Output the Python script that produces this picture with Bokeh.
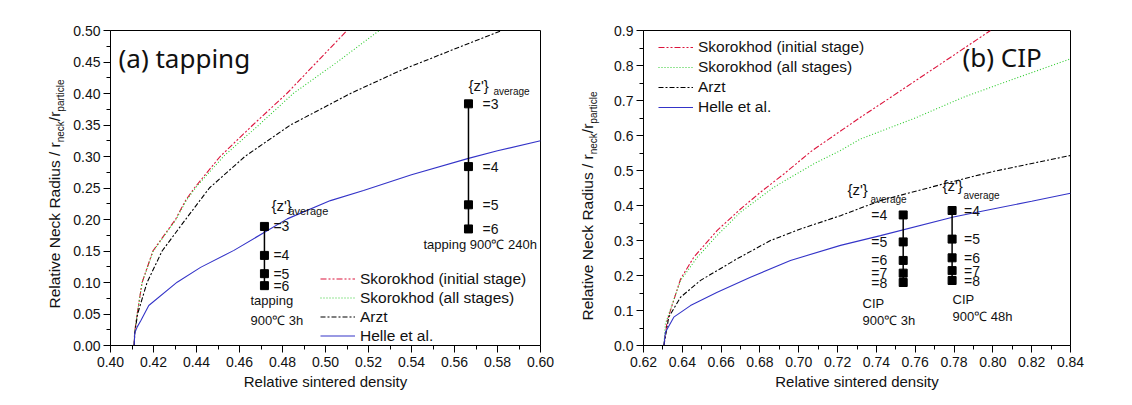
import math
from bokeh.plotting import figure
from bokeh.models import Label, Legend, LegendItem, FixedTicker, NumeralTickFormatter, Range1d
from bokeh.layouts import row
from bokeh.embed import file_html
from bokeh.resources import INLINE

# ---------------- data ----------------
# (a) tapping
tap_sk_init_x = [0.411, 0.4112, 0.4124, 0.4147, 0.4197, 0.4302, 0.4349, 0.439, 0.451, 0.4662, 0.482, 0.496, 0.510]
tap_sk_init_y = [0.0, 0.02, 0.05, 0.10, 0.15, 0.20, 0.23, 0.25, 0.30, 0.35, 0.40, 0.45, 0.50]
tap_sk_all_x = [0.411, 0.4112, 0.4124, 0.4147, 0.4199, 0.4305, 0.4352, 0.4395, 0.4525, 0.469, 0.485, 0.5055, 0.525]
tap_sk_all_y = [0.0, 0.02, 0.05, 0.10, 0.15, 0.20, 0.23, 0.25, 0.30, 0.35, 0.40, 0.45, 0.50]
tap_arzt_x = [0.411, 0.4113, 0.4126, 0.417, 0.424, 0.4349, 0.446, 0.4625, 0.4837, 0.5116, 0.5349, 0.5581, 0.582]
tap_arzt_y = [0.0, 0.02, 0.05, 0.10, 0.15, 0.20, 0.25, 0.30, 0.35, 0.40, 0.4365, 0.468, 0.50]
tap_helle_x = [0.411, 0.4113, 0.4125, 0.4142, 0.4178, 0.431, 0.4419, 0.4574, 0.4822, 0.5023, 0.5177, 0.54, 0.5665, 0.58, 0.60]
tap_helle_y = [0.0, 0.02, 0.03, 0.04, 0.0635, 0.1005, 0.124, 0.151, 0.201, 0.230, 0.246, 0.271, 0.297, 0.309, 0.325]

tap_3h_x = [0.4716, 0.4716, 0.4716, 0.4716]
tap_3h_z = [0.189, 0.143, 0.114, 0.095]
tap_3h_lab = ["=3", "=4", "=5", "=6"]
tap_240h_x = [0.5665, 0.5665, 0.5665, 0.5665]
tap_240h_z = [0.3836, 0.284, 0.2233, 0.185]
tap_240h_lab = ["=3", "=4", "=5", "=6"]

# (b) CIP
cip_sk_init_x = [0.6305, 0.6313, 0.6322, 0.6391, 0.6459, 0.658, 0.670, 0.6803, 0.6923, 0.7069, 0.7318, 0.746, 0.773, 0.7988]
cip_sk_init_y = [0.0, 0.03, 0.071, 0.19, 0.252, 0.329, 0.39, 0.438, 0.49, 0.557, 0.652, 0.704, 0.804, 0.90]
cip_sk_all_x = [0.6305, 0.6313, 0.6391, 0.6477, 0.658, 0.670, 0.6871, 0.7077, 0.7215, 0.7318, 0.76, 0.7847, 0.81, 0.84]
cip_sk_all_y = [0.0, 0.062, 0.186, 0.252, 0.315, 0.381, 0.452, 0.519, 0.557, 0.59, 0.65, 0.709, 0.76, 0.819]
cip_arzt_x = [0.6305, 0.633, 0.6391, 0.6494, 0.6683, 0.6854, 0.7009, 0.7215, 0.7421, 0.7747, 0.80, 0.84]
cip_arzt_y = [0.0, 0.081, 0.138, 0.186, 0.248, 0.30, 0.333, 0.371, 0.414, 0.462, 0.497, 0.543]
cip_helle_x = [0.6305, 0.6313, 0.6356, 0.6442, 0.658, 0.6751, 0.6957, 0.7215, 0.7421, 0.7797, 0.80, 0.82, 0.84]
cip_helle_y = [0.0, 0.038, 0.081, 0.114, 0.152, 0.195, 0.243, 0.286, 0.314, 0.367, 0.39, 0.412, 0.435]

cip_3h_x = [0.7538] * 5
cip_3h_z = [0.373, 0.296, 0.243, 0.2067, 0.18]
cip_3h_lab = ["=4", "=5", "=6", "=7", "=8"]
cip_48h_x = [0.779] * 5
cip_48h_z = [0.3857, 0.304, 0.2505, 0.214, 0.1857]
cip_48h_lab = ["=4", "=5", "=6", "=7", "=8"]

legend_labels = ["Skorokhod (initial stage)", "Skorokhod (all stages)", "Arzt", "Helle et al."]

tap_xticks = [0.40, 0.42, 0.44, 0.46, 0.48, 0.50, 0.52, 0.54, 0.56, 0.58, 0.60]
tap_yticks = [0.00, 0.05, 0.10, 0.15, 0.20, 0.25, 0.30, 0.35, 0.40, 0.45, 0.50]
cip_xticks = [0.62, 0.64, 0.66, 0.68, 0.70, 0.72, 0.74, 0.76, 0.78, 0.80, 0.82, 0.84]
cip_yticks = [0.0, 0.1, 0.2, 0.3, 0.4, 0.5, 0.6, 0.7, 0.8, 0.9]

# ---------------- style ----------------
FONT = "Liberation Sans"
BIG_FONT = "Noto Sans"
C_RED = "#DC143C"
C_GREEN = "#2ECC2E"
C_BLACK = "#000000"
C_BLUE = "#3434C8"
TXT = "#111111"
styles = [(C_RED, "6 2 2 2 2 2"), (C_GREEN, "1 2"), (C_BLACK, "5 2 2 2"), (C_BLUE, "solid")]
MID = {FONT: 0.3465, BIG_FONT: 0.388}   # baseline -> middle of text box, in em

H = 400          # figure height
TOP = 30         # frame top (page px)
FH = 315         # frame height
FRAME_A = (110, 30, 540, 345)
FRAME_B = (643, 30, 1070, 345)
LA_W = 70
LB_W = 35


def minors(ticks):
    return [(a + b) / 2 for a, b in zip(ticks[:-1], ticks[1:])]


def make_fig(xr, yr, frame_w, left, right, xt, yt, yfmt):
    p = figure(x_range=Range1d(*xr), y_range=Range1d(*yr), frame_width=frame_w, frame_height=FH,
               min_border_left=left, min_border_right=right, min_border_top=TOP,
               min_border_bottom=H - TOP - FH,
               output_backend="svg", toolbar_location=None, background_fill_color="white",
               border_fill_color="white")
    p.xgrid.visible = False
    p.ygrid.visible = False
    p.outline_line_color = "black"
    p.outline_line_width = 1
    p.outline_line_alpha = 1
    for ax, ticks, fmt in ((p.xaxis[0], xt, "0.00"), (p.yaxis[0], yt, yfmt)):
        ax.ticker = FixedTicker(ticks=ticks, minor_ticks=minors(ticks))
        ax.formatter = NumeralTickFormatter(format=fmt)
        ax.axis_line_color = "black"
        ax.major_tick_line_color = "black"
        ax.minor_tick_line_color = "black"
        ax.major_tick_out = 7
        ax.major_tick_in = 0
        ax.minor_tick_out = 4
        ax.minor_tick_in = 0
        ax.major_label_text_font = FONT
        ax.major_label_text_font_size = "14px"
        ax.major_label_text_color = TXT
        ax.major_label_standoff = 3
    p.xaxis.major_label_standoff = 4
    p.xaxis.axis_label = "Relative sintered density"
    p.xaxis.axis_label_text_font = FONT
    p.xaxis.axis_label_text_font_size = "15px"
    p.xaxis.axis_label_text_font_style = "normal"
    p.xaxis.axis_label_text_color = TXT
    p.xaxis.axis_label_standoff = 3
    return p


def conv(frame, xr, yr):
    fx0, fy0, fx1, fy1 = frame

    def f(px, py):
        x = xr[0] + (px - fx0) / (fx1 - fx0) * (xr[1] - xr[0])
        y = yr[1] - (py - fy0) / (fy1 - fy0) * (yr[1] - yr[0])
        return x, y
    return f


def text(p, f, px, py, s, size, align="left", font=FONT):
    """Text whose alphabetic baseline sits at page y = py (anchored via box middle)."""
    x, y = f(px, py - MID[font] * size)
    p.add_layout(Label(x=x, y=y, text=s, text_font=font, text_font_size=f"{size}px", text_color=TXT,
                       text_align=align, text_baseline="middle"))


def vtext(p, f, bx, cy, s, size, font=FONT):
    """Vertical (bottom-to-top) text, baseline at page x = bx, centred at page y = cy."""
    x, y = f(bx - MID[font] * size, cy)
    p.add_layout(Label(x=x, y=y, text=s, text_font=font, text_font_size=f"{size}px", text_color=TXT,
                       text_align="center", text_baseline="middle", angle=math.pi / 2))


def label_fig(width, page_x0):
    q = figure(x_range=Range1d(0, width), y_range=Range1d(0, H), frame_width=width, frame_height=H,
               min_border_left=0, min_border_right=0, min_border_top=0, min_border_bottom=0,
               x_axis_location=None, y_axis_location=None,
               output_backend="svg", toolbar_location=None, background_fill_color="white",
               border_fill_color="white")
    q.outline_line_color = None
    q.xgrid.visible = False
    q.ygrid.visible = False
    f = lambda px, py: (px - page_x0, H - py)
    return q, f


def ylabel(q, f, bx, sx, y0):
    # rotated label: main text, subscript neck, /r, subscript particle (Arial metrics, em widths)
    segs = [("Relative Neck Radius / r", 15.5, 10.725, bx),
            ("neck", 10, 2.112, sx),
            ("/r", 15.5, 0.611, bx),
            ("particle", 10, 3.223, sx)]
    y = y0
    for s, size, wem, x in segs:
        w = wem * size
        vtext(q, f, x, y - w / 2, s, size)
        y -= w


def draw_curves(p, xs, ys):
    items = []
    for (cx, cy), (col, dash), lab in zip(zip(xs, ys), styles, legend_labels):
        r = p.line(cx, cy, line_color=col, line_width=1.1, line_dash=dash)
        items.append(LegendItem(label=lab, renderers=[r]))
    return items


def draw_column(p, xs, zs, labels, dx, align):
    p.line(xs, zs, line_color="black", line_width=1.5)
    p.scatter(xs, zs, marker="square", size=8, fill_color="black", line_color="black")
    for x, z, s in zip(xs, zs, labels):
        p.add_layout(Label(x=x, y=z, x_offset=dx, text=s, text_font=FONT, text_font_size="14px",
                           text_color=TXT, text_align=align, text_baseline="middle"))


def legend(p, items, loc, h):
    lg = Legend(items=items, location=loc, label_text_font=FONT, label_text_font_size="15.5px",
                label_text_color=TXT, glyph_width=35, glyph_height=h, label_height=h, label_standoff=5,
                spacing=0, padding=0, margin=0, border_line_alpha=0, background_fill_alpha=0)
    p.add_layout(lg)


# ---------------- (a) tapping ----------------
xrA, yrA = (0.40, 0.60), (0.0, 0.50)
pA = make_fig(xrA, yrA, 430, FRAME_A[0] - LA_W, 28, tap_xticks, tap_yticks, "0.00")
fA = conv(FRAME_A, xrA, yrA)
itemsA = draw_curves(pA, [tap_sk_init_x, tap_sk_all_x, tap_arzt_x, tap_helle_x],
                     [tap_sk_init_y, tap_sk_all_y, tap_arzt_y, tap_helle_y])
legend(pA, itemsA, (210, 0), 19)
draw_column(pA, tap_3h_x, tap_3h_z, tap_3h_lab, 9, "left")
draw_column(pA, tap_240h_x, tap_240h_z, tap_240h_lab, 14, "left")
text(pA, fA, 118, 68, "(a) tapping", 26, font=BIG_FONT)
text(pA, fA, 271, 210, "{z'}", 15)
text(pA, fA, 288, 214, "average", 11)
text(pA, fA, 250, 305, "tapping", 13)
text(pA, fA, 250, 325, "900\u2103 3h", 13)
text(pA, fA, 468, 90, "{z'}", 15)
text(pA, fA, 493, 94, "average", 10)
text(pA, fA, 423, 249, "tapping 900\u2103 240h", 13)

qA, gA = label_fig(LA_W, 0)
ylabel(qA, gA, 59.5, 63.5, 278)

# ---------------- (b) CIP ----------------
a_right = LA_W + (FRAME_A[0] - LA_W) + 430 + 28
xrB, yrB = (0.62, 0.84), (0.0, 0.9)
pB = make_fig(xrB, yrB, 427, FRAME_B[0] - a_right - LB_W, 20, cip_xticks, cip_yticks, "0.0")
fB = conv(FRAME_B, xrB, yrB)
itemsB = draw_curves(pB, [cip_sk_init_x, cip_sk_all_x, cip_arzt_x, cip_helle_x],
                     [cip_sk_init_y, cip_sk_all_y, cip_arzt_y, cip_helle_y])
legend(pB, itemsB, (15, 228), 20)
draw_column(pB, cip_3h_x, cip_3h_z, cip_3h_lab, -16, "right")
draw_column(pB, cip_48h_x, cip_48h_z, cip_48h_lab, 12, "left")
text(pB, fB, 962, 67, "(b) CIP", 26, font=BIG_FONT)
text(pB, fB, 847, 194, "{z'}", 15)
text(pB, fB, 870, 202, "average", 10)
text(pB, fB, 862, 308, "CIP", 13)
text(pB, fB, 862, 325, "900\u2103 3h", 13)
text(pB, fB, 942, 190, "{z'}", 15)
text(pB, fB, 963, 198, "average", 10)
text(pB, fB, 952, 304, "CIP", 13)
text(pB, fB, 952, 321, "900\u2103 48h", 13)

qB, gB = label_fig(LB_W, a_right)
ylabel(qB, gB, 592, 596, 290)

layout = row(qA, pA, qB, pB)
open("out.html", "w").write(file_html(layout, INLINE))
